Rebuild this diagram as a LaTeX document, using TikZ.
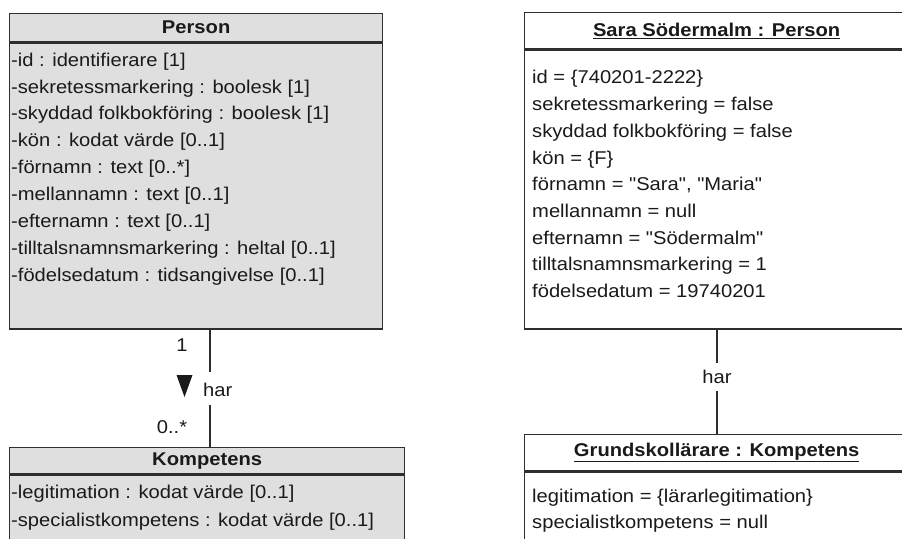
\documentclass[tikz,border=0pt]{standalone}
\usepackage{fontspec}
\setmainfont{Liberation Sans}[FakeStretch=1.09, Ligatures=TeXOff]
\definecolor{ink}{HTML}{1A1A1A}
\definecolor{edge}{HTML}{2E2E2E}
\definecolor{classfill}{HTML}{DFDFDF}
\begin{document}
\begin{tikzpicture}[x=1pt,y=-1pt,
  every node/.style={font=\fontsize{18.5}{21}\selectfont, text=ink, inner sep=0pt},
  box/.style={draw=edge, line width=1.3pt, rectangle, inner sep=0pt, anchor=north west},
  classbox/.style={box, fill=classfill},
  objbox/.style={box, fill=white},
  attr/.style={anchor=base west},
  assoc/.style={draw=edge, line width=1.3pt},
]
\useasboundingbox (0,0) rectangle (902,538);
\clip (0,0) rectangle (902,538);

% ---- class Person ----
\node[classbox, minimum width=373pt, minimum height=28pt] (personHead) at (9,13) {\bfseries Person};
\node[classbox, minimum width=373pt, minimum height=286pt] (personBody) at (personHead.south west) {};
\node[attr] (p1) at (11,66)  {-id : identifierare [1]};
\node[attr] (p2) at (11,93)  {-sekretessmarkering : boolesk [1]};
\node[attr] (p3) at (11,119) {-skyddad folkbokföring : boolesk [1]};
\node[attr] (p4) at (11,146) {-kön : kodat värde [0..1]};
\node[attr] (p5) at (11,173) {-förnamn : text [0..*]};
\node[attr] (p6) at (11,200) {-mellannamn : text [0..1]};
\node[attr] (p7) at (11,227) {-efternamn : text [0..1]};
\node[attr] (p8) at (11,254) {-tilltalsnamnsmarkering : heltal [0..1]};
\node[attr] (p9) at (11,281) {-födelsedatum : tidsangivelse [0..1]};

% ---- class Kompetens ----
\node[classbox, minimum width=395pt, minimum height=26pt] (kompHead) at (9,447) {\bfseries Kompetens};
\node[classbox, minimum width=395pt, minimum height=100pt] (kompBody) at (kompHead.south west) {};
\node[attr] (k1) at (11,498) {-legitimation : kodat värde [0..1]};
\node[attr] (k2) at (11,526) {-specialistkompetens : kodat värde [0..1]};

% ---- association Person -- Kompetens ----
\coordinate (gapTop) at (210,372);
\coordinate (gapBot) at (210,405);
\draw[assoc] (personBody.south -| gapTop) -- (gapTop);
\draw[assoc] (gapBot) -- (kompHead.north -| gapBot);
\fill[ink] (176.5,375) -- (192.5,375) -- (184.5,397) -- cycle;
\node[anchor=west] (harL) at (203,390) {har};
\node (multTop) at (182,345) {1};
\node (multBot) at (172,427) {0..*};

% ---- object Sara Södermalm ----
\node[objbox, minimum width=384pt, minimum height=36pt] (saraHead) at (524,12) {\bfseries\underline{Sara Södermalm : Person}};
\node[objbox, minimum width=384pt, minimum height=279pt] (saraBody) at (saraHead.south west) {};
\node[attr] (s1) at (532,83)  {id = \{740201-2222\}};
\node[attr] (s2) at (532,110) {sekretessmarkering = false};
\node[attr] (s3) at (532,137) {skyddad folkbokföring = false};
\node[attr] (s4) at (532,164) {kön = \{F\}};
\node[attr] (s5) at (532,190) {förnamn = "Sara", "Maria"};
\node[attr] (s6) at (532,217) {mellannamn = null};
\node[attr] (s7) at (532,244) {efternamn = "Södermalm"};
\node[attr] (s8) at (532,270) {tilltalsnamnsmarkering = 1};
\node[attr] (s9) at (532,297) {födelsedatum = 19740201};

% ---- object Grundskollärare ----
\node[objbox, minimum width=384pt, minimum height=36pt] (grundHead) at (524,434) {\bfseries\underline{Grundskollärare : Kompetens}};
\node[objbox, minimum width=384pt, minimum height=100pt] (grundBody) at (grundHead.south west) {};
\node[attr] (g1) at (532,502) {legitimation = \{lärarlegitimation\}};
\node[attr] (g2) at (532,528) {specialistkompetens = null};

% ---- link Sara -- Grundskollärare ----
\node[inner ysep=7.4pt] (harR) at (717,377) {har};
\draw[assoc] (saraBody.south -| harR) -- (harR.north);
\draw[assoc] (harR.south) -- (grundHead.north -| harR);
\end{tikzpicture}
\end{document}
